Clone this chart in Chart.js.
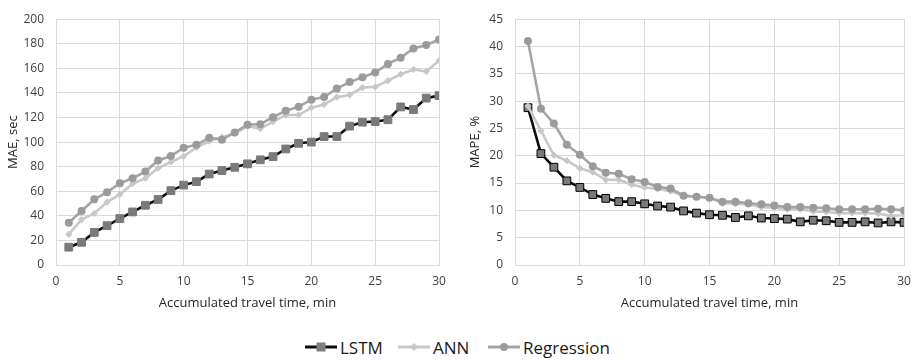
<!DOCTYPE html>
<html>
<head>
<meta charset="utf-8">
<script src="https://cdn.jsdelivr.net/npm/chart.js@4/dist/chart.umd.min.js"></script>
<style>
  html, body { margin: 0; padding: 0; background: #fff; }
  #wrap { position: relative; width: 923px; height: 363px; overflow: hidden; font-family: "Open Sans", sans-serif; }
  #c1 { position: absolute; left: 0; top: 0; }
  #c2 { position: absolute; left: 460px; top: 0; }
  .leg { position: absolute; top: 336px; height: 22px; display: flex; align-items: center; font-size: 17px; color: #1a1a1a; }
  .leg svg { margin-right: 3px; }
</style>
</head>
<body>
<div id="wrap">
  <canvas id="c1" width="460" height="320"></canvas>
  <canvas id="c2" width="463" height="320"></canvas>
  <div class="leg" style="left:305px"><svg width="32" height="12"><line x1="0" y1="6" x2="32" y2="6" stroke="#0d0d0d" stroke-width="3"/><rect x="12" y="2" width="8" height="8" fill="#7f7f7f" stroke="#7f7f7f" stroke-width="1"/></svg>LSTM</div>
  <div class="leg" style="left:398px"><svg width="32" height="12"><line x1="0" y1="6" x2="32" y2="6" stroke="#c8c8c8" stroke-width="3"/><polygon points="16,2 20,6 16,10 12,6" fill="#c8c8c8"/></svg>ANN</div>
  <div class="leg" style="left:488px"><svg width="32" height="12"><line x1="0" y1="6" x2="32" y2="6" stroke="#a5a5a5" stroke-width="3"/><circle cx="16" cy="6" r="4" fill="#9b9b9b"/></svg>Regression</div>
</div>
<script>
const times = [1,2,3,4,5,6,7,8,9,10,11,12,13,14,15,16,17,18,19,20,21,22,23,24,25,26,27,28,29,30];
const seriesNames = ["LSTM", "ANN", "Regression"];

const maeLSTM = [14.5,18.5,26.5,32,37.8,43.2,48.6,53.3,60.5,65,67.8,74,76.8,79.5,82.3,85.6,88.2,94.4,99,100,104.5,104.5,113,116.2,116.7,118.2,128.6,126.5,135.8,137.8];
const maeANN  = [25,37,41.9,51.2,57.4,66.2,70.4,78.9,83.8,88.5,95.7,100.7,104,107,113,111,116.6,122,122,128,130.6,136.6,138.4,144.4,144.9,150,155.2,159.1,157.5,166.3];
const maeReg  = [34.4,44,53.5,59.2,66.5,70.6,76,85.1,88.7,95.5,97.8,103.5,102,107.9,114.1,114.6,120.3,125.5,128.8,134.5,136.6,143.6,148.8,152.7,156.6,163.6,168.7,176.2,179,183.4];

const mapeLSTM = [28.8,20.4,17.9,15.4,14.2,12.9,12.2,11.6,11.6,11.2,10.8,10.6,9.9,9.5,9.2,9.1,8.7,9.0,8.6,8.5,8.4,7.9,8.2,8.1,7.8,7.8,7.9,7.7,7.9,7.8];
const mapeANN  = [29.1,24.6,20.1,19.1,17.7,17,15.6,15.6,14.7,14.2,13.9,13.5,12.7,12.5,12.3,11.3,11.2,11.1,10.6,10.5,10.2,10.2,9.8,9.7,9.5,9.5,9.5,9.4,9.0,9.1];
const mapeReg  = [41.0,28.6,25.9,22.0,20.2,18.1,16.9,16.7,15.7,15.2,14.3,14.0,12.7,12.5,12.3,11.6,11.6,11.3,11.1,10.9,10.6,10.6,10.5,10.4,10.2,10.2,10.2,10.3,10.2,10.0];

const xTitle = "Accumulated travel time, min";
const maeTitle = "MAE, sec";
const mapeTitle = "MAPE, %";

function pts(vals) { return vals.map((v, i) => ({ x: times[i], y: v })); }

function datasets(lstm, ann, reg, lstmEdge) {
  return [
    { label: seriesNames[0], data: pts(lstm), order: 3, borderColor: "#0d0d0d", borderWidth: 2.6,
      pointStyle: "rect", pointRadius: 5.5, pointBackgroundColor: "#7a7a7a", pointBorderColor: lstmEdge, pointBorderWidth: 1, tension: 0 },
    { label: seriesNames[1], data: pts(ann), order: 2, borderColor: "#c8c8c8", borderWidth: 2.6,
      pointStyle: "rectRot", pointRadius: 3.6, pointBackgroundColor: "#c8c8c8", pointBorderColor: "#c8c8c8", pointBorderWidth: 0, tension: 0 },
    { label: seriesNames[2], data: pts(reg), order: 1, borderColor: "#a5a5a5", borderWidth: 2.6,
      pointStyle: "circle", pointRadius: 4, pointBackgroundColor: "#9b9b9b", pointBorderColor: "#9b9b9b", pointBorderWidth: 0, tension: 0 }
  ];
}

function makeChart(id, ds, yMax, yStep, yTitle, yWidth, pad, yTitlePad) {
  return new Chart(document.getElementById(id), {
    type: "line",
    data: { datasets: ds },
    options: {
      responsive: false,
      animation: false,
      layout: { padding: pad },
      plugins: { legend: { display: false }, tooltip: { enabled: false } },
      scales: {
        x: {
          type: "linear", min: 0, max: 30,
          ticks: { stepSize: 5, padding: 9, color: "#404040", font: { family: "Open Sans", size: 12 } },
          grid: { color: "#d9d9d9", lineWidth: 1, drawTicks: false },
          border: { color: "#d9d9d9" },
          title: { display: true, text: xTitle, color: "#262626", font: { family: "Open Sans", size: 13 }, padding: { top: 0, bottom: 9 } },
          afterFit: (s) => { s.height = 55; }
        },
        y: {
          min: 0, max: yMax,
          ticks: { stepSize: yStep, padding: 12, color: "#404040", font: { family: "Open Sans", size: 12 } },
          grid: { color: "#d9d9d9", lineWidth: 1, drawTicks: false },
          border: { color: "#d9d9d9" },
          title: { display: true, text: yTitle, color: "#262626", font: { family: "Open Sans", size: 13 }, padding: { top: yTitlePad, bottom: 0 } },
          afterFit: (s) => { s.width = yWidth; }
        }
      }
    }
  });
}

makeChart("c1", datasets(maeLSTM, maeANN, maeReg, "#7a7a7a"), 200, 20, maeTitle, 56, { left: 0, right: 21, top: 7, bottom: 0 }, 5);
makeChart("c2", datasets(mapeLSTM, mapeANN, mapeReg, "#000"), 45, 5, mapeTitle, 55, { left: 0, right: 19, top: 8, bottom: 0 }, 7);
</script>
</body>
</html>
